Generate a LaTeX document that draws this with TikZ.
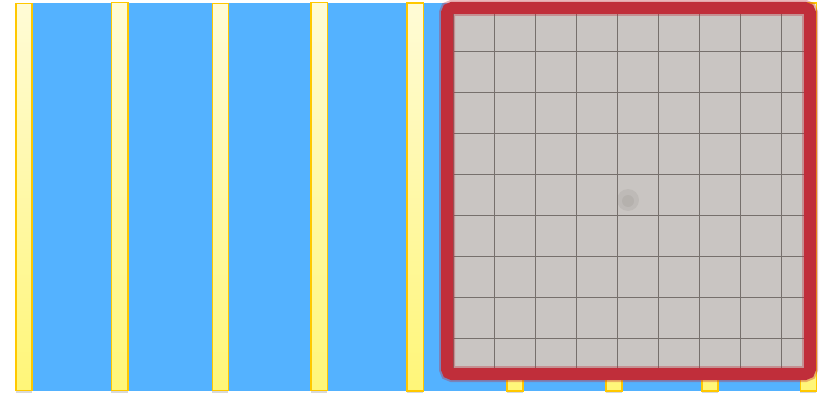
\documentclass[tikz,border=0pt]{standalone}
\usepackage{tikz}
\usetikzlibrary{matrix, fit, positioning, shadows}
\usepackage{xcolor}

\definecolor{azulfondo}{RGB}{84,178,255}
\definecolor{bordebarra}{RGB}{255,200,0}
\definecolor{cremabarra}{RGB}{255,251,214}
\definecolor{amarillobarra}{RGB}{255,246,120}
\definecolor{rojomarco}{RGB}{192,46,58}
\definecolor{grisbaldosa}{RGB}{201,197,194}
\definecolor{junta}{RGB}{118,112,108}

\tikzset{
	barra/.style={
		draw=bordebarra,
		line width=1.9pt,
		top color=cremabarra,
		bottom color=amarillobarra,
		drop shadow={shadow xshift=-0.5pt, shadow yshift=-2pt, opacity=0.3}
	},
	marco/.style={
		draw=rojomarco,
		line width=12pt,
		rounded corners=5pt,
		preaction={draw=rojomarco, line width=16pt, opacity=0.35, rounded corners=7pt}
	}
}

\begin{document}
\begin{tikzpicture}[x=1pt,y=-1pt]
	
	\useasboundingbox (0,0) rectangle (825,396);
	
	% Fondo
	\fill[azulfondo] (16,3) rectangle (817,391);
	
	% Barras
	\draw[barra] (16,3.5) rectangle ++(16,387);
	\draw[barra] (111.5,2.5) rectangle ++(16.5,388);
	\draw[barra] (212.5,3.5) rectangle ++(16,387);
	\draw[barra] (311,2.5) rectangle ++(16.5,388);
	\draw[barra] (407,3) rectangle ++(16.5,388);
	\draw[barra] (507,3) rectangle ++(16,388);
	\draw[barra] (606,3) rectangle ++(16,388);
	\draw[barra] (702,3) rectangle ++(16,388);
	\draw[barra] (800.5,3) rectangle ++(16,388);
	
	% Baldosas
	\begin{scope}
		\clip (450,10) rectangle (807,372);
		\fill[grisbaldosa] (450,10) rectangle (807,372);
		\matrix (M) [
		matrix of nodes,
		nodes in empty cells,
		inner sep=0pt,
		nodes={
			draw=junta,
			line width=0.9pt,
			minimum width=40.5pt,
			minimum height=40.5pt,
			inner sep=0pt,
			anchor=center
		},
		column sep=-\pgflinewidth,
		row sep=-\pgflinewidth,
		anchor=north west
		] at (453,9.8) {
			& & & & & & & & \\
			& & & & & & & & \\
			& & & & & & & & \\
			& & & & & & & & \\
			& & & & & & & & \\
			& & & & & & & & \\
			& & & & & & & & \\
			& & & & & & & & \\
			& & & & & & & & \\
		};
		% Mancha central
		\fill[junta, opacity=0.12] (628,200) circle (11);
		\fill[junta, opacity=0.12] (628,201) circle (6);
	\end{scope}
	
	% Marco rojo
	\draw[marco] (447,8) rectangle (810,374);
	
\end{tikzpicture}
\end{document}
